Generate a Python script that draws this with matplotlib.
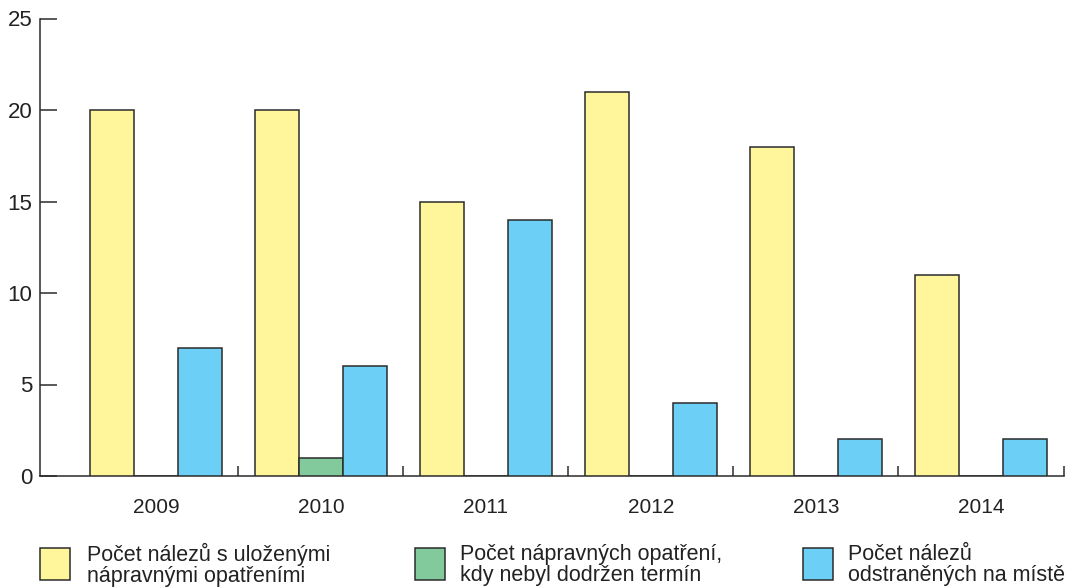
import matplotlib
matplotlib.use("Agg")
import matplotlib.pyplot as plt
from matplotlib.patches import Rectangle
import numpy as np

plt.rcParams['font.family'] = ['Liberation Sans', 'DejaVu Sans']

years = ["2009", "2010", "2011", "2012", "2013", "2014"]
nalezy_opatreni = [20, 20, 15, 21, 18, 11]
nedodrzen_termin = [0, 1, 0, 0, 0, 0]
odstraneno_na_miste = [7, 6, 14, 4, 2, 2]
series_labels = ["Počet nálezů s uloženými\nnápravnými opatřeními",
                 "Počet nápravných opatření,\nkdy nebyl dodržen termín",
                 "Počet nálezů\nodstraněných na místě"]
colors = ["#FFF59B", "#82CA9C", "#6CCFF6"]
edge = "#2b2b2b"
lw = 1.1

W, H = 1070, 587
fig = plt.figure(figsize=(W / 100, H / 100), dpi=100)
ax = fig.add_axes([40 / W, 1 - 476 / H, (1063.5 - 40) / W, (476 - 18.5) / H])

x = np.arange(len(years))
bw = 0.2667
for i, (vals, c) in enumerate(zip([nalezy_opatreni, nedodrzen_termin, odstraneno_na_miste], colors)):
    ax.bar(x + (i - 1) * bw, vals, width=bw, color=c, edgecolor=edge, linewidth=lw, zorder=3)

ax.set_xlim(-0.703, 5.5)
ax.set_ylim(0, 25)
ax.set_yticks(range(0, 26, 5))
ax.tick_params(axis='y', direction='in', length=12.2, width=lw, color=edge, labelsize=16, pad=5.5)
ax.set_xticks(x)
ax.set_xticklabels(years)
ax.set_xticks(x + 0.5, minor=True)
ax.tick_params(axis='x', which='major', length=0, labelsize=15, pad=16)
ax.tick_params(axis='x', which='minor', direction='in', length=7.2, width=lw, color=edge)
for s in ['top', 'right']:
    ax.spines[s].set_visible(False)
for s in ['left', 'bottom']:
    ax.spines[s].set_linewidth(lw)
    ax.spines[s].set_color(edge)
for lbl in ax.get_xticklabels() + ax.get_yticklabels():
    lbl.set_color("#222222")

# legend
box_x = [40, 415, 803]
text_x = [87, 460, 848]
for bx, tx, c, lab in zip(box_x, text_x, colors, series_labels):
    fig.patches.append(Rectangle((bx / W, 1 - 580 / H), 30 / W, 32 / H, transform=fig.transFigure,
                                 facecolor=c, edgecolor=edge, linewidth=lw))
    fig.text(tx / W, 1 - 565 / H, lab, fontsize=15.5, va='center', ha='left', color="#222222",
             linespacing=0.95)

fig.savefig("out.png", dpi=100)
